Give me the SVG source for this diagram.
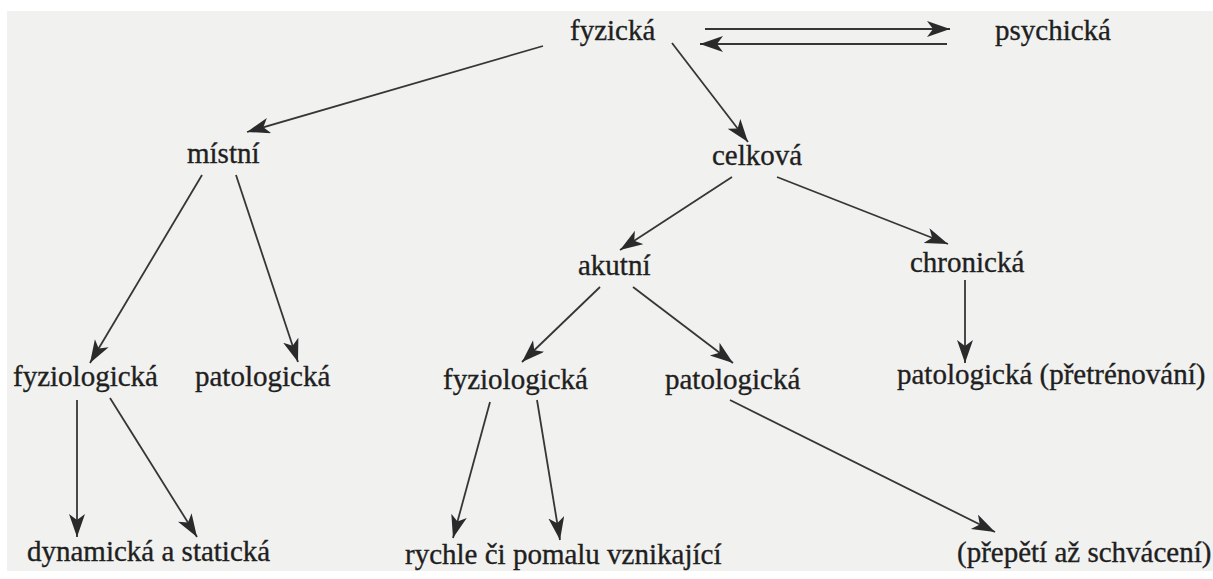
<svg xmlns="http://www.w3.org/2000/svg" width="1213" height="579" viewBox="0 0 1213 579">
<defs>
<style>
.t{font-family:"Liberation Serif","Times New Roman",serif;font-size:29px;fill:#1f1f1f;stroke:#1f1f1f;stroke-width:0.35}
.c line{stroke:#363636;stroke-width:1.8;fill:none}
.a{marker-end:url(#ah)}
</style>
<marker id="ah" markerUnits="userSpaceOnUse" markerWidth="24" markerHeight="18" refX="23" refY="8" orient="auto">
<path d="M0,0 L23,8 L0,16 L6,8 Z" fill="#2a2a2a"/>
</marker>
</defs>
<rect x="0" y="0" width="1213" height="579" fill="#ffffff"/>
<rect x="7" y="11" width="1206" height="560" fill="#f1f1ef"/>
<g class="c" id="connectors">
<line class="a" x1="705" y1="29" x2="950" y2="29"/>
<line class="a" x1="947" y1="44" x2="700" y2="44"/>
<line class="a" x1="543" y1="46" x2="247" y2="132"/>
<line class="a" x1="672" y1="43" x2="748" y2="142"/>
<line class="a" x1="202" y1="175" x2="90" y2="363"/>
<line class="a" x1="236" y1="175" x2="298" y2="362"/>
<line class="a" x1="732" y1="177" x2="620" y2="250"/>
<line class="a" x1="777" y1="177" x2="948" y2="244"/>
<line class="a" x1="600" y1="287" x2="522" y2="362"/>
<line class="a" x1="633" y1="287" x2="733" y2="363"/>
<line class="a" x1="965" y1="280" x2="965" y2="363"/>
<line class="a" x1="77" y1="400" x2="77" y2="537"/>
<line class="a" x1="110" y1="398" x2="197" y2="537"/>
<line class="a" x1="490" y1="402" x2="453" y2="538"/>
<line class="a" x1="537" y1="400" x2="560" y2="540"/>
<line class="a" x1="730" y1="400" x2="995" y2="532"/>
</g>
<g id="n-fyzicka"><text class="t" x="570" y="40">fyzická</text></g>
<g id="n-psychicka"><text class="t" x="995" y="40">psychická</text></g>
<g id="n-mistni"><text class="t" x="187" y="163">místní</text></g>
<g id="n-celkova"><text class="t" x="712" y="165">celková</text></g>
<g id="n-akutni"><text class="t" x="578" y="275">akutní</text></g>
<g id="n-chronicka"><text class="t" x="910" y="272">chronická</text></g>
<g id="n-fyz1"><text class="t" x="13" y="386">fyziologická</text></g>
<g id="n-pat1"><text class="t" x="195" y="386">patologická</text></g>
<g id="n-fyz2"><text class="t" x="443" y="389">fyziologická</text></g>
<g id="n-pat2"><text class="t" x="665" y="389">patologická</text></g>
<g id="n-pat3"><text class="t" x="897" y="384">patologická (přetrénování)</text></g>
<g id="n-dyn"><text class="t" x="27" y="561">dynamická a statická</text></g>
<g id="n-rych"><text class="t" x="405" y="564">rychle či pomalu vznikající</text></g>
<g id="n-prep"><text class="t" x="957" y="562">(přepětí až schvácení)</text></g>
</svg>
